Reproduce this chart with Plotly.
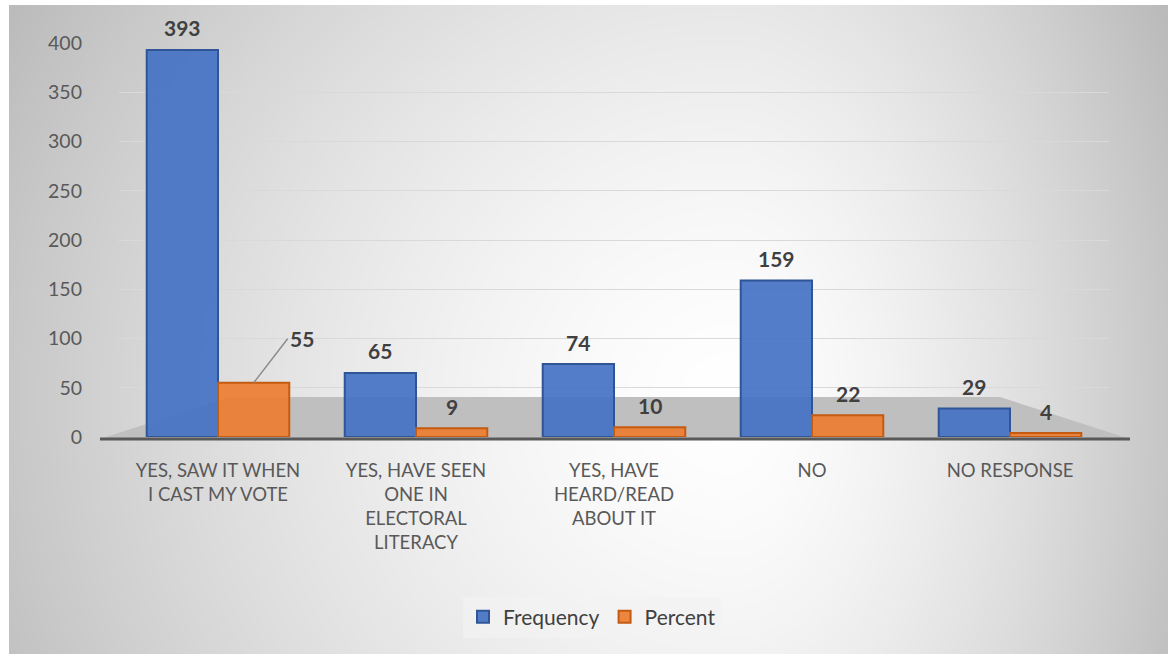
import base64
import struct
import zlib

import numpy as np
import plotly.graph_objects as go

# ---------------- data ----------------
categories = [
    "YES, SAW IT WHEN<br>I CAST MY VOTE",
    "YES, HAVE SEEN<br>ONE IN<br>ELECTORAL<br>LITERACY",
    "YES, HAVE<br>HEARD/READ<br>ABOUT IT",
    "NO",
    "NO RESPONSE",
]
frequency = [393, 65, 74, 159, 29]
percent = [55, 9, 10, 22, 4]
y_ticks = [0, 50, 100, 150, 200, 250, 300, 350, 400]

# ---------------- layout geometry (pixels) ----------------
W, H = 1168, 654
L, R = 119, 1109   # plot area left/right
T, B = 43, 437     # plot area top/bottom
BARGAP = 0.28


def px_x(p):
    return (p - L) / (R - L)


def px_y(p):
    return (B - p) / (B - T)


# ---------------- radial-ish gradient background (PNG data URI) ----------------
iw, ih = 580, 325
xs = np.linspace(9, W, iw)
ys = np.linspace(5, H, ih)
X, Y = np.meshgrid(xs, ys)
dx = X - 730
ax = np.where(dx < 0, 720.0, 430.0)
r = np.sqrt((dx / ax) ** 2 + ((Y - 400) / 700.0) ** 2)
v = np.clip(255 - 55 * r ** 1.5, 185, 255).astype(np.uint8)
raw = b"".join(b"\x00" + row.tobytes() for row in v)


def chunk(t, d):
    return struct.pack(">I", len(d)) + t + d + struct.pack(">I", zlib.crc32(t + d) & 0xFFFFFFFF)


png = (b"\x89PNG\r\n\x1a\n"
       + chunk(b"IHDR", struct.pack(">IIBBBBB", iw, ih, 8, 0, 0, 0, 0))
       + chunk(b"IDAT", zlib.compress(raw, 9))
       + chunk(b"IEND", b""))
bg_src = "data:image/png;base64," + base64.b64encode(png).decode()

FONT = "Lato"
LABEL_FONT = dict(family=FONT, size=21, color="#404040")

fig = go.Figure()
fig.add_trace(go.Bar(
    name="Frequency", x=categories, y=frequency,
    marker=dict(color="rgba(68,114,196,0.92)", line=dict(color="#2F5597", width=2)),
))
fig.add_trace(go.Bar(
    name="Percent", x=categories, y=percent,
    marker=dict(color="rgba(237,125,49,0.92)", line=dict(color="#C55A11", width=2)),
))

# data labels (annotations anchored on each bar top)
bar_px = (R - L) / len(categories) * (1 - BARGAP) / 2
annotations = []
for i, (cat, f) in enumerate(zip(categories, frequency)):
    annotations.append(dict(x=cat, y=f, xref="x", yref="y", text=f"<b>{f}</b>", showarrow=False,
                            xshift=-bar_px / 2, yshift=22, font=LABEL_FONT))
for i, (cat, p) in enumerate(zip(categories, percent)):
    if i == 0:
        annotations.append(dict(x=cat, y=p, xref="x", yref="y", text=f"<b>{p}</b>", showarrow=True,
                                arrowhead=0, arrowwidth=1.5, arrowcolor="#8c8c8c",
                                xshift=bar_px / 2, ax=34, ay=-44, xanchor="left", font=LABEL_FONT))
    else:
        annotations.append(dict(x=cat, y=p, xref="x", yref="y", text=f"<b>{p}</b>", showarrow=False,
                                xshift=bar_px / 2, yshift=22, font=LABEL_FONT))

floor_path = "M {} {} L {} {} L {} {} L {} {} Z".format(
    px_x(100), px_y(439), px_x(1130), px_y(439), px_x(1000), px_y(397), px_x(230), px_y(397))

fig.update_layout(
    width=W, height=H,
    margin=dict(l=L, r=W - R, t=T, b=H - B),
    paper_bgcolor="white",
    plot_bgcolor="rgba(0,0,0,0)",
    font=dict(family=FONT, color="#595959"),
    barmode="group", bargap=BARGAP, bargroupgap=0,
    showlegend=True,
    legend=dict(orientation="h", x=px_x(592), xanchor="center", y=px_y(617), yanchor="middle",
                bgcolor="rgba(242,242,242,0.7)", font=dict(family=FONT, size=21, color="#404040")),
    annotations=annotations,
    images=[dict(source=bg_src, xref="paper", yref="paper",
                 x=px_x(9), y=px_y(5), sizex=(W - 9) / (R - L), sizey=(H - 5) / (B - T),
                 xanchor="left", yanchor="top", sizing="stretch", layer="below")],
    shapes=[
        dict(type="path", path=floor_path, xref="paper", yref="paper",
             fillcolor="#bfbfbf", line=dict(width=0), layer="between"),
        dict(type="line", xref="paper", yref="paper", x0=px_x(100), x1=px_x(1130),
             y0=px_y(439), y1=px_y(439), line=dict(color="#595959", width=3), layer="above"),
    ],
)
fig.update_xaxes(showgrid=False, showline=False, zeroline=False,
                 tickfont=dict(family=FONT, size=18.5, color="#595959"), ticklabelstandoff=20)
fig.update_yaxes(range=[0, 400], tickvals=y_ticks, showgrid=True, gridcolor="#d9d9d9", gridwidth=1,
                 zeroline=False, showline=False,
                 tickfont=dict(family=FONT, size=19.5, color="#595959"), ticklabelstandoff=36)

fig.write_html("out.html")
